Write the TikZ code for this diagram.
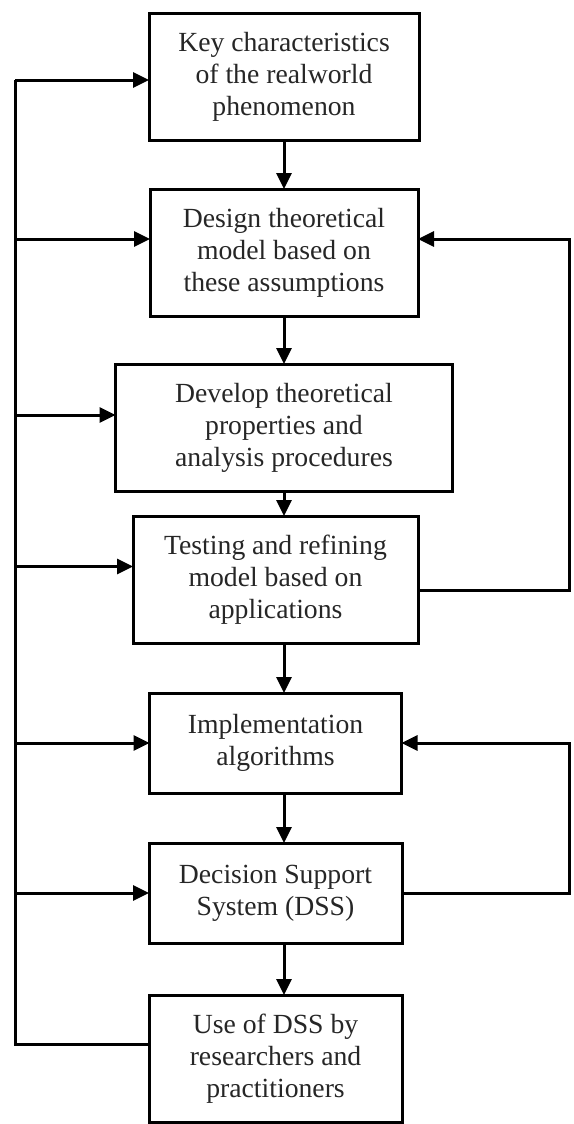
\documentclass[tikz,border=0pt]{standalone}
\usepackage{fontspec}
\setmainfont{Liberation Serif}
\usetikzlibrary{positioning,arrows.meta}
\usepackage{xcolor}

\begin{document}
\begin{tikzpicture}[
node distance=24.5pt,
every node/.style={draw, line width=1.5pt, align=center, outer sep=0pt, inner sep=2pt,
  text=black!85, font=\fontsize{13.85pt}{16pt}\selectfont},
tall/.style={minimum height=63.5pt},
short/.style={minimum height=50pt},
>={Triangle[length=8pt,width=7.5pt]},
line width=1.5pt
]
\useasboundingbox (0,0) rectangle (286.5pt,-562pt);

%-------------------------
% Nodos
%-------------------------

\node (key) [tall, minimum width=135pt] at (142pt,-38.25pt)
{Key characteristics\\of the realworld\\phenomenon};

\node (design) [tall, minimum width=134pt, below=24.5pt of key]
{Design theoretical\\model based on\\these assumptions};

\node (develop) [tall, minimum width=168.5pt, below=24pt of design]
{Develop theoretical\\properties and\\analysis procedures};

\node (testing) [tall, minimum width=142.5pt, below=12.5pt of develop, xshift=-4.25pt]
{Testing and refining\\model based on\\applications};

\node (impl) [short, minimum width=126pt, below=25pt of testing]
{Implementation\\algorithms};

\node (dss) [short, minimum width=126.5pt, below=25pt of impl]
{Decision Support\\System (DSS)};

\node (use) [tall, minimum width=126.5pt, below=26pt of dss]
{Use of DSS by\\researchers and\\practitioners};

\coordinate (bus) at (7.5pt,0);
\coordinate (back) at (284.5pt,0);

%-------------------------
% Flechas
%-------------------------

\draw[->] (key) -- (design);
\draw[->] (design) -- (develop);
\draw[->] (develop.south -| key) -- (testing.north -| key);
\draw[->] (testing.south -| key) -- (impl.north -| key);
\draw[->] (impl.south -| key) -- (dss.north -| key);
\draw[->] (dss.south -| key) -- (use.north -| key);

\draw ([yshift=-1.75pt]key.west -| bus) -- ([yshift=7.25pt]use.west -| bus) -- ([yshift=7.25pt]use.west);
\draw[->] ([yshift=-1.75pt]key.west -| bus) -- ([yshift=-1.75pt]key.west);
\draw[->] ([yshift=6.75pt]design.west -| bus) -- ([yshift=6.75pt]design.west);
\draw[->] ([yshift=6.25pt]develop.west -| bus) -- ([yshift=6.25pt]develop.west);
\draw[->] ([yshift=6.5pt]testing.west -| bus) -- ([yshift=6.5pt]testing.west);
\draw[->] (impl.west -| bus) -- (impl.west);
\draw[->] (dss.west -| bus) -- (dss.west);

\draw[->] ([yshift=-5.5pt]testing.east) -- ([yshift=-5.5pt]testing.east -| back)
  -- ([yshift=6.75pt]design.east -| back) -- ([yshift=6.75pt]design.east);
\draw[->] (dss.east) -- (dss.east -| back) -- (impl.east -| back) -- (impl.east);

\end{tikzpicture}
\end{document}
